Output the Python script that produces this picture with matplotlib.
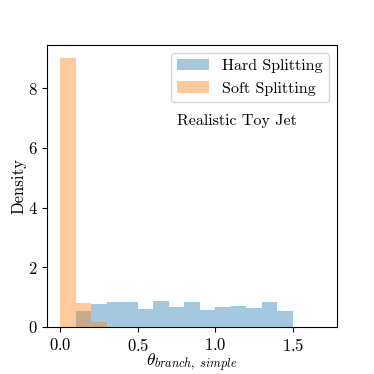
import matplotlib
matplotlib.use("Agg")
import matplotlib.pyplot as plt
import numpy as np

plt.rcParams['font.family'] = 'serif'
plt.rcParams['font.serif'] = ['cmr10']
plt.rcParams['mathtext.fontset'] = 'cm'
plt.rcParams['axes.formatter.use_mathtext'] = True
plt.rcParams['font.size'] = 12

bin_left = [0.0, 0.1, 0.2, 0.3, 0.4, 0.5, 0.6, 0.7, 0.8, 0.9, 1.0, 1.1, 1.2, 1.3, 1.4]
hard_density = [0.0, 0.53, 0.76, 0.84, 0.84, 0.60, 0.87, 0.67, 0.82, 0.56, 0.66, 0.71, 0.63, 0.83, 0.54]
soft_density = [9.0, 0.80, 0.16, 0, 0, 0, 0, 0, 0, 0, 0, 0, 0, 0, 0]
bin_width = 0.1

fig = plt.figure(figsize=(3.74, 3.74), dpi=100)
ax = fig.add_axes([0.126, 0.126, 0.775, 0.754])
ax.bar(bin_left, hard_density, width=bin_width, align='edge', color='C0', alpha=0.4, label='Hard Splitting')
ax.bar(bin_left, soft_density, width=bin_width, align='edge', color='C1', alpha=0.4, label='Soft Splitting')
ax.set_xlim(-0.085, 1.785)
ax.set_ylim(0, 9.45)
ax.set_yticks([0, 2, 4, 6, 8])
ax.set_xticks([0.0, 0.5, 1.0, 1.5])
ax.set_xlabel(r'$\theta_{branch,\ simple}$', fontsize=12.5)
ax.set_ylabel('Density', fontsize=12)
ax.xaxis.set_label_coords(0.5, -0.088)
ax.yaxis.set_label_coords(-0.07, 0.5)
ax.legend(loc='upper right', handlelength=2.0, labelspacing=0.5, fontsize=11.5)
ax.text(0.448, 0.716, 'Realistic Toy Jet', transform=ax.transAxes, va='baseline', fontsize=11.5)
fig.savefig('out.png', dpi=100)
